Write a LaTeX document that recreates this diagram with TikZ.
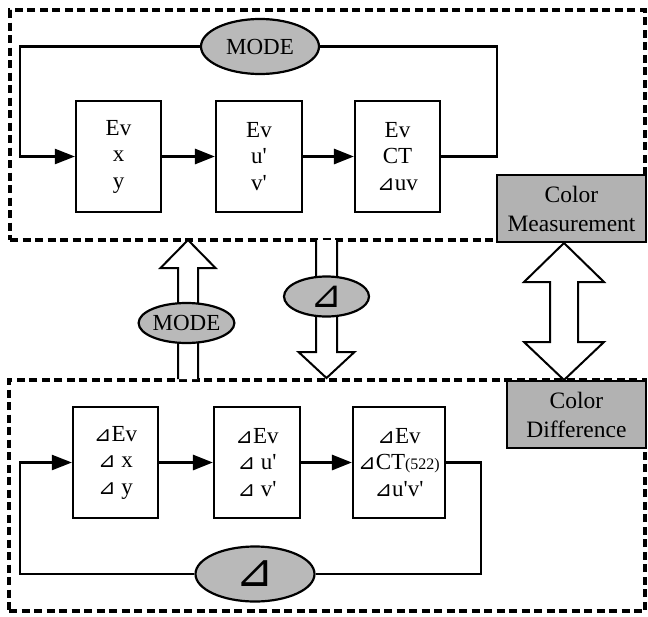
\documentclass[tikz,border=0pt]{standalone}
\usepackage{fontspec}
\setmainfont{Liberation Serif}
\newfontfamily\symfont{DejaVu Sans}
\usetikzlibrary{positioning, arrows.meta, shapes}

\newcommand{\tri}{{\symfont\fontsize{21}{21}\selectfont ⊿}}
\newcommand{\pr}{\textquotesingle}

\begin{document}
\begin{tikzpicture}[
    % GLOBAL CFG
    x=1pt, y=-1pt,
    font=\fontsize{23}{26.5}\selectfont,
    >={Triangle[length=20pt,width=15pt]},
    % Styles
    frame/.style={% dashed group boxes
        rectangle,
        draw,
        dash pattern=on 8pt off 4.5pt,
        line width=3.2pt,
        inner sep=0pt,
        },
    block/.style={% measurement blocks
        rectangle,
        draw,
        line width=2.2pt,
        align=center,
        inner sep=0pt,
        },
    oval/.style={% grey selectors
        ellipse,
        draw,
        line width=2.2pt,
        fill=gray!55,
        inner sep=0pt,
        },
    tag/.style={% grey titles
        rectangle,
        draw,
        line width=2.2pt,
        fill=gray!60,
        align=center,
        inner sep=0pt,
        font=\fontsize{23.5}{29}\selectfont,
        },
    Feed/.style={% loop lines
        line width=2.3pt,
        },
    Flow/.style={% arrows between blocks
        line width=3pt,
        },
    hollow/.style={% wide white arrows
        draw,
        fill=white,
        line width=2pt,
        line join=miter,
        },
    ]

    \useasboundingbox (0,0) rectangle (648,616);

    % Draw the two groups
    \node [frame, minimum width=635, minimum height=230] (meas) at (327.5,125) {};
    \node [frame, minimum width=636, minimum height=231] (diff) at (327,495.5) {};

    % Upper row
    \node [block, minimum width=85, minimum height=111] (evxy) at (118.5,156.5) {Ev\\x\\y};
    \node [block, minimum width=86, minimum height=111] (evuv) at (259,156.5) {Ev\\u\pr\\v\pr};
    \node [block, minimum width=85, minimum height=111] (evct) at (397.5,156.5) {Ev\\CT\\\tri uv};
    \node [oval, minimum width=118, minimum height=55] (mode_top) at (260,46.5) {MODE};

    % Lower row
    \node [block, minimum width=85, minimum height=111] (dxy) at (115.5,462.5) {\tri Ev\\\tri\ x\\\tri\ y};
    \node [block, minimum width=86, minimum height=111] (duv) at (257,462.5) {\tri Ev\\\tri\ u\pr\\\tri\ v\pr};
    \node [block, minimum width=92, minimum height=111] (dct) at (399,462.5) {\tri Ev\\\tri CT{\fontsize{16}{16}\selectfont(522)}\\\tri u\pr v\pr};
    \node [oval, minimum width=119, minimum height=55] (delta_bot) at (255,574) {{\symfont\fontsize{46}{46}\selectfont ⊿}};

    % Titles
    \node [tag, minimum width=149, minimum height=67] (title_meas) at (571.5,208.5) {Color\\Measurement};
    \node [tag, minimum width=139, minimum height=67] (title_diff) at (576.5,414.5) {Color\\Difference};

    % Wide arrows between the groups
    \draw [hollow] (178,379) -- (178,268) -- (160.5,268) -- (188,240) -- (215.5,268) -- (198,268) -- (198,379);
    \draw [hollow] (316,240) -- (316,352) -- (298.5,352) -- (326.5,378) -- (354.5,352) -- (337,352) -- (337,240);
    \draw [hollow] (564,243) -- (604,282) -- (578,282) -- (578,342) -- (604,342) -- (564,380)
        -- (524,342) -- (550,342) -- (550,282) -- (524,282) -- cycle;
    \node [oval, minimum width=85, minimum height=40] (mode_mid) at (186.5,323) {MODE};
    \node [oval, minimum width=85, minimum height=40] (delta_mid) at (326.5,296.5) {{\symfont\fontsize{38}{38}\selectfont ⊿}};

% Start connecting all.
    \draw [->, Flow] (evxy) -- (evuv);
    \draw [->, Flow] (evuv) -- (evct);
    \draw [->, Flow] (dxy) -- (duv);
    \draw [->, Flow] (duv) -- (dct);

    % upper loop
    \draw [Feed] (evct.east) -- ++(56,0) |- (mode_top.east);
    \draw [->, Feed] (mode_top.west) -| ([xshift=-55pt]evxy.west) -- (evxy.west);

    % lower loop
    \draw [Feed] (dct.east) -- ++(35,0) |- (delta_bot.east);
    \draw [->, Feed] (delta_bot.west) -| ([xshift=-52pt]dxy.west) -- (dxy.west);

\end{tikzpicture}
\end{document}
